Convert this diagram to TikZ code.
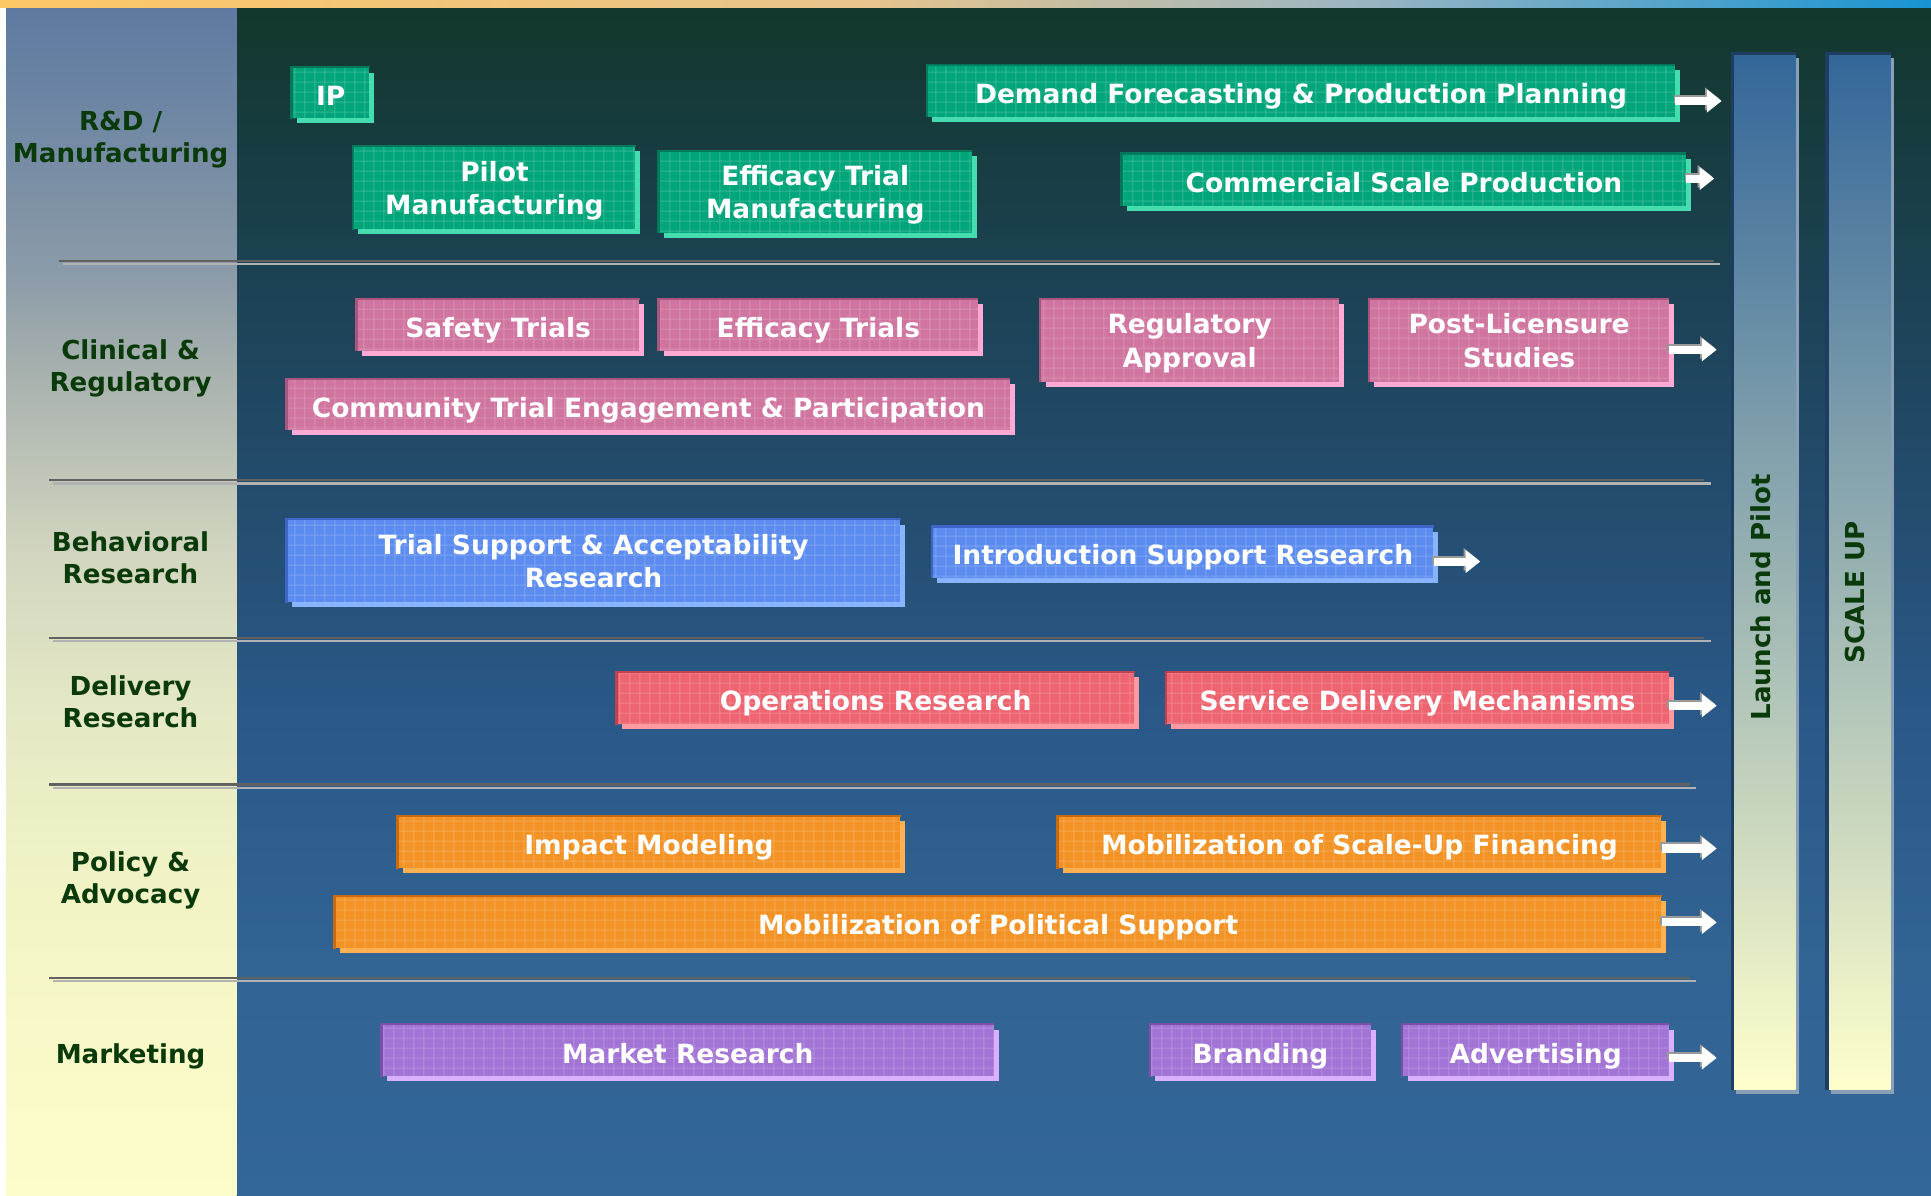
\documentclass[tikz,border=0pt]{standalone}
\usepackage{fontspec}
\setmainfont{DejaVu Sans}
\usetikzlibrary{arrows.meta,patterns.meta}

% backgrounds
\definecolor{bgA}{HTML}{336699}
\definecolor{bgB}{HTML}{316393}
\definecolor{bgC}{HTML}{2A5988}
\definecolor{bgD}{HTML}{234B6C}
\definecolor{bgE}{HTML}{1C4152}
\definecolor{bgF}{HTML}{12372C}
\definecolor{lpA}{HTML}{FDFDCC}
\definecolor{lpB}{HTML}{F9F9C8}
\definecolor{lpC}{HTML}{F1F3C6}
\definecolor{lpD}{HTML}{E4E8C4}
\definecolor{lpE}{HTML}{D2D6C0}
\definecolor{lpF}{HTML}{A8B2AE}
\definecolor{lpG}{HTML}{8A9AA8}
\definecolor{lpH}{HTML}{5D7AA1}
\definecolor{stA}{HTML}{FDC766}
\definecolor{stB}{HTML}{E6C48C}
\definecolor{stC}{HTML}{9CB6C2}
\definecolor{stD}{HTML}{1894D2}
\definecolor{labelgreen}{HTML}{0A3A0A}
\definecolor{barTop}{HTML}{336699}
\definecolor{barBot}{HTML}{FFFFCC}
\definecolor{barDark}{HTML}{1E3D60}
\definecolor{barLight}{HTML}{8AA0B8}
% task box palettes: fill (F), shadow (S), edge (E)
\definecolor{grnF}{HTML}{00A57A}\definecolor{grnS}{HTML}{45DDB0}\definecolor{grnE}{HTML}{00785A}
\definecolor{pnkF}{HTML}{D0759F}\definecolor{pnkS}{HTML}{FFAAD4}\definecolor{pnkE}{HTML}{A85580}
\definecolor{bluF}{HTML}{5C8CF0}\definecolor{bluS}{HTML}{88B4FF}\definecolor{bluE}{HTML}{3E66C8}
\definecolor{redF}{HTML}{EE6470}\definecolor{redS}{HTML}{FF9AA0}\definecolor{redE}{HTML}{C04050}
\definecolor{ornF}{HTML}{F39325}\definecolor{ornS}{HTML}{FFB050}\definecolor{ornE}{HTML}{C86A10}
\definecolor{purF}{HTML}{A274D6}\definecolor{purS}{HTML}{D8B0FF}\definecolor{purE}{HTML}{7A50A8}

% shadings: the painted path is fitted to the 25bp..75bp band
\pgfdeclareverticalshading{mainbg}{100bp}{color(0bp)=(bgA); color(25bp)=(bgA); color(35bp)=(bgB); color(45bp)=(bgC); color(55bp)=(bgD); color(64bp)=(bgE); color(75bp)=(bgF); color(100bp)=(bgF)}
\pgfdeclareverticalshading{leftbg}{100bp}{color(0bp)=(lpA); color(25bp)=(lpA); color(31bp)=(lpB); color(38.5bp)=(lpC); color(45.5bp)=(lpD); color(52bp)=(lpE); color(59.5bp)=(lpF); color(64bp)=(lpG); color(75bp)=(lpH); color(100bp)=(lpH)}
\pgfdeclarehorizontalshading{topstrip}{100bp}{color(0bp)=(stA); color(25bp)=(stA); color(47.5bp)=(stB); color(60bp)=(stC); color(75bp)=(stD); color(100bp)=(stD)}

\tikzset{
  boxfont/.style={font=\fontsize{10.75pt}{13.5pt}\selectfont\bfseries},
  taskbox/.style={boxfont, text=white, align=center, inner sep=0pt, draw=none, text depth=0pt,
    execute at begin node={\rule{0pt}{10.2pt}},
    postaction={pattern={Hatch[distance=4pt,angle=0,line width=0.4pt]}, pattern color=white, fill opacity=0.2}},
  rowlabel/.style={font=\fontsize{10.6pt}{13pt}\selectfont\bfseries, text=labelgreen, align=center},
  barlabel/.style={font=\fontsize{10.6pt}{13pt}\selectfont\bfseries, text=labelgreen, rotate=90},
  sepdark/.style={draw=black!62, line width=0.9pt},
  seplight/.style={draw=black!30, line width=0.9pt},
  flow/.style={draw=white, line width=3.3pt, -{Triangle[length=6pt,width=9pt]}},
  flowshade/.style={draw=black!40, line width=3.3pt, -{Triangle[length=6pt,width=9pt]}},
  stage/.style={draw=none, top color=barTop, bottom color=barBot, inner sep=0pt,
    minimum width=25.5pt, minimum height=420.5pt},
}

% task box: name, palette prefix, x1, y1, x2, y2, text
\newcommand{\taskbox}[7]{%
  \fill[#2S] (#3+4,#4+4) rectangle (#5+4,#6+4);
  \node[taskbox,fill=#2F,minimum width={(#5-#3)*0.5pt},minimum height={(#6-#4)*0.5pt}] (#1) at ({(#3+#5)/2},{(#4+#6)/2}) {#7};
  \draw[#2E,line width=1pt] (#1.south west) -- (#1.north west) -- (#1.north east);
}
% double separator rule: y, x1, x2
\newcommand{\sepline}[3]{%
  \draw[sepdark] (#2,#1) -- (#3,#1);
  \draw[seplight] (#2+3,#1+2.6) -- (#3+5,#1+2.6);
}

\begin{document}
\begin{tikzpicture}[x=0.5pt,y=-0.5pt]
\useasboundingbox (0,0) rectangle (1568,971);
\fill[white] (0,0) rectangle (1568,971);
\shade[shading=mainbg] (192,6) rectangle (1568,971);
\shade[shading=leftbg] (5,6) rectangle (192,971);
\shade[shading=topstrip] (0,0) rectangle (1568,6);

% row separators
\sepline{212}{48}{1392}
\sepline{390}{40}{1384}
\sepline{518}{40}{1384}
\sepline{637}{40}{1372}
\sepline{794}{40}{1372}

% row labels
\node[rowlabel] (lblrd)  at (98,113)  {R\&D /\\Manufacturing};
\node[rowlabel] (lblcr)  at (106,299) {Clinical \&\\Regulatory};
\node[rowlabel] (lblbr)  at (106,453) {Behavioral\\Research};
\node[rowlabel] (lbldr)  at (106,570) {Delivery\\Research};
\node[rowlabel] (lblpa)  at (106,715) {Policy \&\\Advocacy};
\node[rowlabel] (lblmk)  at (106,858) {Marketing};

% stage bars
\fill[barLight] (1410,47) rectangle (1461,888);
\node[stage] (launch) at (1432.5,464.5) {};
\draw[barDark,line width=1.3pt] (launch.south west) -- (launch.north west) -- (launch.north east);
\node[barlabel] (launchtxt) at (1430,485) {Launch and Pilot};
\fill[barLight] (1487,47) rectangle (1538,888);
\node[stage] (scaleup) at (1509.5,464.5) {};
\draw[barDark,line width=1.3pt] (scaleup.south west) -- (scaleup.north west) -- (scaleup.north east);
\node[barlabel] (scaletxt) at (1506,481) {SCALE UP};

% R&D / Manufacturing
\taskbox{ip}{grn}{237}{55}{300}{96}{IP}
\taskbox{demand}{grn}{753}{53}{1360}{95}{Demand Forecasting \& Production Planning}
\taskbox{pilot}{grn}{287}{119}{516}{186}{Pilot\\Manufacturing}
\taskbox{efftm}{grn}{535}{123}{789}{189}{Efficacy Trial\\Manufacturing}
\taskbox{commercial}{grn}{911}{125}{1369}{167}{Commercial Scale Production}

% Clinical & Regulatory
\taskbox{safety}{pnk}{290}{243}{519}{285}{Safety Trials}
\taskbox{efficacy}{pnk}{535}{243}{794}{285}{Efficacy Trials}
\taskbox{regulatory}{pnk}{845}{243}{1087}{310}{Regulatory\\Approval}
\taskbox{postlic}{pnk}{1112}{243}{1355}{310}{Post-Licensure\\Studies}
\taskbox{community}{pnk}{233}{308}{820}{349}{Community Trial Engagement \& Participation}

% Behavioral Research
\taskbox{trialsupport}{blu}{233}{422}{731}{489}{Trial Support \& Acceptability\\Research}
\taskbox{introsupport}{blu}{757}{428}{1164}{469}{Introduction Support Research}

% Delivery Research
\taskbox{operations}{red}{501}{546}{921}{588}{Operations Research}
\taskbox{service}{red}{947}{546}{1355}{588}{Service Delivery Mechanisms}

% Policy & Advocacy
\taskbox{impact}{orn}{323}{663}{731}{705}{Impact Modeling}
\taskbox{financing}{orn}{859}{663}{1349}{705}{Mobilization of Scale-Up Financing}
\taskbox{political}{orn}{272}{728}{1349}{770}{Mobilization of Political Support}

% Marketing
\taskbox{market}{pur}{310}{832}{807}{874}{Market Research}
\taskbox{branding}{pur}{934}{832}{1113}{874}{Branding}
\taskbox{advertising}{pur}{1139}{832}{1355}{874}{Advertising}

% continuation arrows
\coordinate (demandEnd) at (1398,82);
\coordinate (commercialEnd) at (1392,145);
\coordinate (postlicEnd) at (1394,284);
\coordinate (introEnd) at (1202,456);
\coordinate (serviceEnd) at (1394,573);
\coordinate (financingEnd) at (1394,689);
\coordinate (politicalEnd) at (1394,749);
\coordinate (advertisingEnd) at (1394,859);
\foreach \src/\dst in {demand/demandEnd, commercial/commercialEnd, postlic/postlicEnd,
    introsupport/introEnd, service/serviceEnd, financing/financingEnd,
    political/politicalEnd, advertising/advertisingEnd} {
  \draw[flowshade] ([shift={(-1.5,-1.6)}]\src.east |- \dst) -- ([shift={(-1.5,-1.6)}]\dst);
  \draw[flow] (\src.east |- \dst) -- (\dst);
}
\end{tikzpicture}
\end{document}
